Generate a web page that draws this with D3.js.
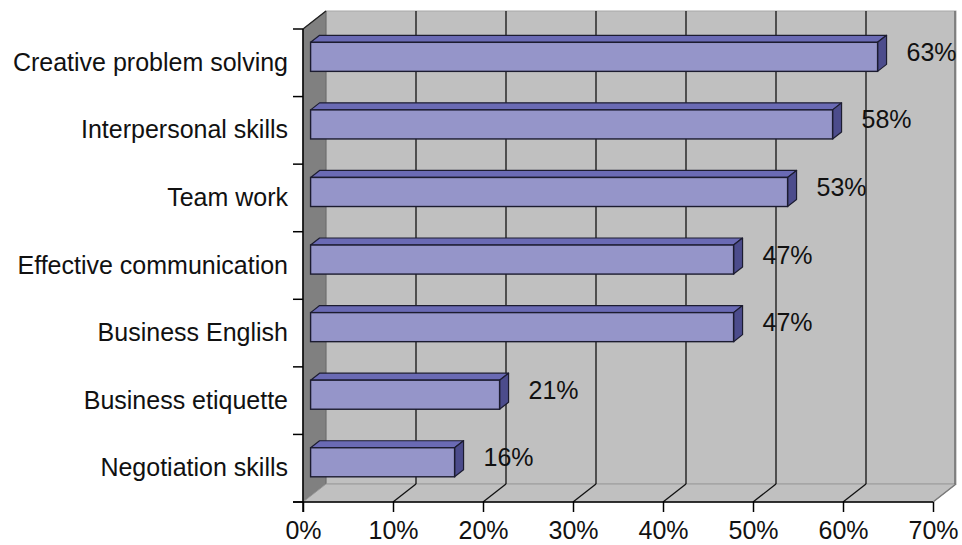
<!DOCTYPE html>
<html>
<head>
<meta charset="utf-8">
<script src="https://cdn.jsdelivr.net/npm/d3@7"></script>
<style>
  html, body { margin: 0; padding: 0; background: #ffffff; }
  svg { display: block; }
  text { font-family: "Liberation Sans", Arial, sans-serif; fill: #111; }
</style>
</head>
<body>
<svg id="chart" width="962" height="545"></svg>
<script>
// ---- data ----
const categories = [
  "Creative problem solving",
  "Interpersonal skills",
  "Team work",
  "Effective communication",
  "Business English",
  "Business etiquette",
  "Negotiation skills"
];
const values = [0.63, 0.58, 0.53, 0.47, 0.47, 0.21, 0.16];
const valueLabels = ["63%", "58%", "53%", "47%", "47%", "21%", "16%"];
const xTicks = [0, 0.1, 0.2, 0.3, 0.4, 0.5, 0.6, 0.7];

// ---- layout ----
const svg = d3.select("#chart");
const pL = 303, pR = 933, pT = 29, pB = 502;
const DX = 23, DY = -18;          // full depth offset of the 3D box
const F1 = 0.33, F2 = 0.72;       // bar front / back depth fractions

const x = d3.scaleLinear().domain([0, 0.7]).range([pL, pR]);
const y = d3.scaleBand().domain(categories).range([pT, pB])
  .paddingInner(0.57).paddingOuter(0.285);
const step = y.step();
const bw = y.bandwidth();

const wallFill = "#c0c0c0";
const sideFill = "#808080";
const pts = arr => arr.map(p => p.join(",")).join(" ");

// back wall
svg.append("rect")
  .attr("x", x(0) + DX).attr("y", pT + DY)
  .attr("width", x(0.7) - x(0)).attr("height", pB - pT)
  .attr("fill", wallFill).attr("stroke", "#a8a8a8").attr("stroke-width", 1);

// left side wall
svg.append("polygon")
  .attr("points", pts([[x(0), pT], [x(0) + DX, pT + DY], [x(0) + DX, pB + DY], [x(0), pB]]))
  .attr("fill", sideFill).attr("stroke", "#6a6a6a").attr("stroke-width", 1);

// floor
svg.append("polygon")
  .attr("points", pts([[x(0), pB], [x(0.7), pB], [x(0.7) + DX, pB + DY], [x(0) + DX, pB + DY]]))
  .attr("fill", wallFill).attr("stroke", "#999").attr("stroke-width", 1);

// right edge of back wall (darker line) and floor right edge
svg.append("line")
  .attr("x1", x(0.7) + DX - 1).attr("x2", x(0.7) + DX - 1)
  .attr("y1", pT + DY).attr("y2", pB + DY)
  .attr("stroke", "#6e6e6e").attr("stroke-width", 1.5);
svg.append("line")
  .attr("x1", x(0.7)).attr("y1", pB)
  .attr("x2", x(0.7) + DX).attr("y2", pB + DY)
  .attr("stroke", "#7a7a7a").attr("stroke-width", 1.5);

// gridlines on back wall and floor
const inner = xTicks.filter(t => t > 0 && t < 0.7);
svg.selectAll(".grid").data(inner).join("line")
  .attr("x1", d => x(d) + DX).attr("x2", d => x(d) + DX)
  .attr("y1", pT + DY).attr("y2", pB + DY)
  .attr("stroke", "#111").attr("stroke-width", 1.3);
svg.selectAll(".floorgrid").data(inner).join("line")
  .attr("x1", d => x(d)).attr("y1", pB)
  .attr("x2", d => x(d) + DX).attr("y2", pB + DY)
  .attr("stroke", "#111").attr("stroke-width", 1.3);

// side wall top edge
svg.append("line")
  .attr("x1", x(0)).attr("y1", pT).attr("x2", x(0) + DX).attr("y2", pT + DY)
  .attr("stroke", "#222").attr("stroke-width", 1.3);

// bars
const barColor = { front: "#9595c9", topFace: "#6a6ab4", side: "#4c4c8c", stroke: "#1c1c30" };
const g = svg.append("g");
categories.forEach((c, i) => {
  const v = values[i];
  const x0 = x(0) + DX * F1, x1 = x(v) + DX * F1;
  const y0 = y(c) + DY * F1, y1 = y(c) + bw + DY * F1;
  const ddx = DX * (F2 - F1), ddy = DY * (F2 - F1);
  g.append("polygon")
    .attr("points", pts([[x0, y0], [x1, y0], [x1 + ddx, y0 + ddy], [x0 + ddx, y0 + ddy]]))
    .attr("fill", barColor.topFace).attr("stroke", barColor.stroke).attr("stroke-width", 1.2)
    .attr("stroke-linejoin", "round");
  g.append("polygon")
    .attr("points", pts([[x1, y0], [x1 + ddx, y0 + ddy], [x1 + ddx, y1 + ddy], [x1, y1]]))
    .attr("fill", barColor.side).attr("stroke", barColor.stroke).attr("stroke-width", 1.2)
    .attr("stroke-linejoin", "round");
  g.append("rect")
    .attr("x", x0).attr("y", y0).attr("width", x1 - x0).attr("height", y1 - y0)
    .attr("fill", barColor.front).attr("stroke", barColor.stroke).attr("stroke-width", 1.4);
  g.append("text")
    .attr("x", x1 + ddx + 20)
    .attr("y", (y0 + y1) / 2 + 4)
    .attr("font-size", 25)
    .text(valueLabels[i]);
});

// left axis line + category boundary ticks
svg.append("line")
  .attr("x1", pL).attr("x2", pL).attr("y1", pT).attr("y2", pB + 10)
  .attr("stroke", "#000").attr("stroke-width", 1.5);
const bounds = d3.range(categories.length + 1).map(k => pT + k * step);
svg.selectAll(".ytick").data(bounds).join("line")
  .attr("x1", pL - 10).attr("x2", pL).attr("y1", d => d).attr("y2", d => d)
  .attr("stroke", "#000").attr("stroke-width", 1.5);

// category labels via axisLeft
const yAxis = svg.append("g")
  .attr("transform", `translate(${pL - 15},0)`)
  .call(d3.axisLeft(y).tickSize(0).tickPadding(0));
yAxis.select(".domain").remove();
yAxis.selectAll("text")
  .attr("font-size", 25).attr("font-family", "Liberation Sans, Arial, sans-serif")
  .attr("fill", "#111").attr("dy", "0.32em").attr("x", 0);

// bottom axis
const xAxis = svg.append("g")
  .attr("transform", `translate(0,${pB})`)
  .call(d3.axisBottom(x).tickValues(xTicks).tickFormat(d3.format(".0%")).tickSize(10).tickPadding(10));
xAxis.select(".domain")
  .attr("d", `M${pL - 10},0H${pR}`).attr("stroke", "#000").attr("stroke-width", 1.5);
xAxis.selectAll(".tick line").attr("stroke", "#000").attr("stroke-width", 1.5);
xAxis.selectAll("text")
  .attr("font-size", 25).attr("font-family", "Liberation Sans, Arial, sans-serif")
  .attr("fill", "#111").attr("dy", "0.68em");
</script>
</body>
</html>
